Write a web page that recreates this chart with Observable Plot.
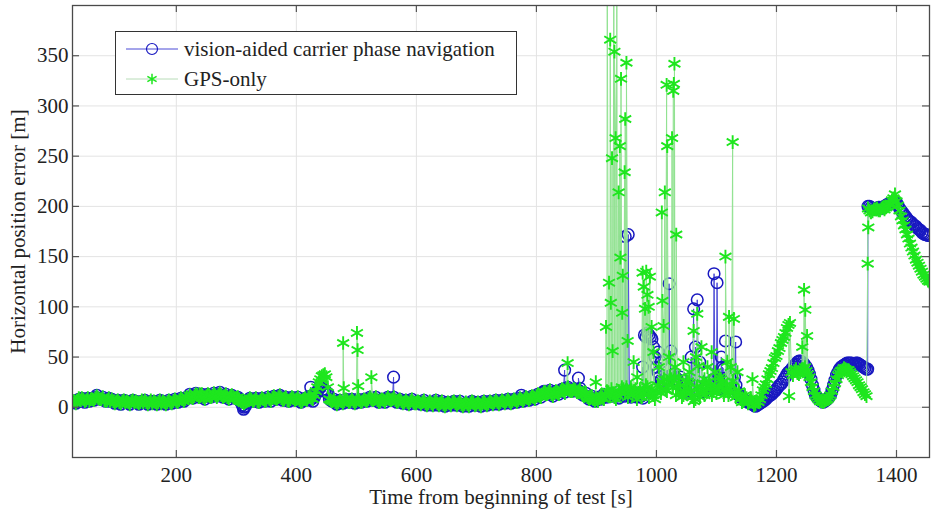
<!DOCTYPE html>
<html><head><meta charset="utf-8">
<script src="https://cdn.jsdelivr.net/npm/d3@7"></script>
<script src="https://cdn.jsdelivr.net/npm/@observablehq/plot@0.6"></script>
<style>
body{margin:0;background:#fff;}
#wrap{position:relative;width:931px;height:513px;font-family:"Liberation Serif","Times New Roman",serif;color:#222;}
#legend{position:absolute;left:115px;top:31px;width:402px;height:64px;border:1px solid #333;background:#fff;box-sizing:border-box;font-size:21px;}
.row{position:absolute;left:0;height:24px;display:flex;align-items:center;}
.row svg{display:block;}
.row span{margin-left:6px;white-space:nowrap;}
</style></head>
<body><div id="wrap"></div>
<script>
// ---- data ----
const t0 = 30, dt = 5; // base samples every 5 s from t = 30 s; mid samples at t0 + 2.5 + 5i
const visionBase = [
 6,7,6,8,7,6,9,10,9,8,7,7,6,6,
 6,5,6,5,5,6,5,5,4,5,5,5,4,5,5,4,5,5,5,6,
 6,7,8,8,10,11,12,12,11,10,11,12,11,12,13,12,11,10,11,10,
 9,8,2,1,7,8,7,6,7,8,7,8,9,10,11,9,8,7,8,9,
 8,7,6,9,10,8,10,16,20,18,15,8,6,5,5,6,6,7,6,6,
 6,7,6,7,8,9,8,7,6,7,8,9,8,7,6,6,5,5,6,5,
 4,5,5,4,3,4,5,4,4,3,3,4,5,4,4,3,2,3,4,5,
 3,3,4,4,4,5,5,5,5,6,6,6,6,7,7,8,8,9,9,10,
 11,12,14,16,15,13,14,15,16,18,19,17,16,18,17,14,12,10,9,8,
 8,10,11,12,12,13,12,11,12,13,14,12,11,12,13,11,72,74,70,60,
 40,30,25,28,30,32,30,28,22,18,15,17,20,22,18,15,16,20,25,28,
 22,18,20,25,22,20,30,15,10,8,6,5,3,1,3,5,7,10,12,15,
 18,22,25,30,35,38,42,45,46,44,40,33,22,12,8,6,6,8,12,22,
 32,38,41,43,44,44,43,44,42,40,38,200,198,197,199,198,200,202,203,205,
 204,198,194,190,186,184,181,178,176,173,172,171
];
const visionMid = [
 4,8,9,5,9,8,7,12,8,10,6,9,8,4,
 7,3,7,6,3,7,6,3,6,7,3,6,6,3,7,6,3,7,4,8,
 5,9,6,10,13,9,14,10,13,8,13,10,14,11,15,10,13,8,12,9,
 10,5,0,4,9,6,9,5,9,6,10,6,11,8,12,7,10,6,10,7,
 10,5,8,7,11,6,13,18,22,17,14,7,8,3,7,4,8,5,8,4,
 8,5,8,6,10,7,10,5,8,5,10,7,10,5,8,4,7,3,8,4,
 6,3,7,2,5,2,7,2,6,1,5,2,6,2,6,1,4,1,6,2,
 5,1,6,2,6,3,7,3,7,4,8,4,8,5,9,6,10,7,11,8,
 13,10,16,14,17,11,16,13,18,15,20,16,18,16,19,12,14,8,11,6,
 10,8,13,10,14,11,14,9,14,11,16,10,13,10,15,9,70,72,68,50,
 35,27,27,30,31,33,29,25,20,16,16,19,21,20,16,15,18,22,27,25,
 20,19,23,23,21,25,22,12,9,7,5,4,2,2,4,6,8,11,13,16,
 20,23,28,33,36,40,43,46,45,42,37,28,17,10,7,5,7,10,17,27,
 35,40,42,44,44,43,44,43,41,39,200,199,197,198,199,199,201,202,204,205,
 201,196,192,188,185,182,180,177,174,172,171
];
const gpsBase = [
 6,7,7,8,7,6,8,9,9,8,7,7,6,6,
 6,5,6,5,5,6,5,5,5,5,5,5,4,5,5,4,5,5,5,6,
 6,7,8,8,9,10,11,12,11,10,11,12,11,12,12,12,11,10,11,10,
 9,8,5,5,7,8,7,6,7,8,7,8,9,9,10,9,8,7,8,9,
 8,7,6,9,10,9,12,20,28,32,30,8,6,5,5,6,6,7,6,6,
 6,7,6,7,8,8,8,7,6,7,8,8,8,7,6,6,5,5,6,5,
 4,5,5,4,4,4,5,4,4,3,3,4,5,4,4,3,3,3,4,5,
 3,3,4,4,4,5,5,5,5,6,6,6,6,7,7,8,8,9,9,10,
 11,12,13,15,15,13,14,15,16,17,18,17,16,17,16,14,12,10,9,8,
 8,9,10,12,15,18,10,12,14,18,20,15,12,18,14,10,15,20,14,12,
 15,20,25,18,22,28,30,20,15,12,18,24,10,8,15,20,12,18,22,16,
 14,20,25,18,12,22,15,12,8,6,9,7,5,3,5,12,20,28,36,44,
 51,59,67,74,82,35,36,34,35,38,36,30,20,12,8,6,6,8,12,20,
 28,34,37,38,37,33,29,25,20,15,11,196,195,197,196,198,197,200,203,208,
 205,196,186,177,168,159,151,144,138,132,128,125
];
const gpsMid = [
 4,9,9,6,9,8,7,11,8,10,6,9,8,4,
 7,4,7,6,3,7,6,4,7,7,3,7,6,3,7,6,3,7,4,8,
 5,9,6,10,12,9,13,10,13,8,13,10,14,10,14,10,13,8,12,9,
 10,6,4,6,9,6,9,5,9,6,10,6,11,8,12,7,10,6,10,7,
 10,5,8,7,11,8,16,25,31,33,20,7,8,3,7,4,8,5,8,4,
 8,5,8,6,10,7,10,5,8,5,10,7,10,5,8,4,7,3,8,4,
 6,3,7,2,6,2,7,2,6,1,5,2,6,2,6,1,5,1,6,2,
 5,1,6,2,6,3,7,3,7,4,8,4,8,5,9,6,10,7,11,8,
 13,10,15,13,17,11,16,13,18,14,20,16,18,15,18,12,14,8,11,6,
 6,12,8,16,12,14,8,16,20,14,10,20,16,8,18,14,22,10,16,8,
 22,14,28,16,30,20,12,24,10,16,26,14,6,20,10,24,16,26,12,20,
 18,28,12,20,16,26,10,16,5,12,4,9,2,6,8,17,23,33,39,49,
 56,64,70,79,84,32,38,33,38,40,33,25,16,10,6,5,7,10,16,24,
 32,36,39,37,35,31,27,22,18,13,198,194,197,198,196,199,199,202,206,212,
 201,190,181,172,163,155,147,141,135,130,126
];
const visionSpikes = [
 [424,20],[562,30],[775,12],[847,37],[870,29],[312,-2],
 [948,170],[953,172],[977,40],[1003,55],[1008,45],[1021,123],[1024,56],[1040,30],
 [1058,50],[1062,98],[1065,60],[1068,107],[1072,45],[1085,35],
 [1096,133],[1101,124],[1108,50],[1110,40],[1112,38],[1115,66],[1122,30],[1132,65],[1352,38]
];
const gpsSpikes = [
 [239,13],[478,64],[479,19],[501,74],[502,57],[503,21],[525,30],[852,44],[899,25],
 [916,80],[918,460],[921,124],[923,366],[924,104],[926,248],[927,56],[929,480],
 [930,354],[932,268],[934,420],[937,214],[939,260],[940,149],[941,327],[943,94],
 [944,131],[947,234],[948,287],[950,343],[952,66],[962,45],[968,30],
 [977,134],[979,120],[981,98],[983,135],[985,112],[987,100],[989,130],[992,80],[995,55],
 [1004,40],[1009,194],[1010,106],[1012,81],[1014,214],[1017,321],[1018,260],[1021,50],
 [1026,268],[1028,315],[1029,322],[1030,342],[1031,40],[1033,172],[1038,30],
 [1045,45],[1050,25],[1055,35],[1062,76],[1066,50],[1068,93],[1070,41],[1075,60],
 [1080,28],[1085,40],[1092,55],[1098,35],[1105,30],[1115,150],[1118,45],[1121,90],
 [1124,40],[1127,264],[1129,88],
 [1135,35],[1160,28],[1221,11],[1243,60],[1246,117],[1248,97],[1251,71],
 [1352,143],[1353,179]
];
const xTicks = [200,400,600,800,1000,1200,1400];
const yTicks = [0,50,100,150,200,250,300,350];
const seriesNames = ["vision-aided carrier phase navigation","GPS-only"];
const xLabel = "Time from beginning of test [s]";
const yLabel = "Horizontal position error [m]";

function build(base, mid, spikes){
  const pts = base.map((v,i)=>({t:t0+i*dt, v}));
  mid.forEach((v,i)=>pts.push({t:t0+dt/2+i*dt, v}));
  spikes.forEach(([t,v])=>pts.push({t,v}));
  pts.sort((a,b)=>a.t-b.t);
  return pts;
}
const vision = build(visionBase, visionMid, visionSpikes);
const gps = build(gpsBase, gpsMid, gpsSpikes);

const W=931, H=513, mL=72, mR=2, mT=5, mB=56;
const fw = W-mL-mR, fh = H-mT-mB;
const tick = 7;
const FS = 21;

const chart = Plot.plot({
  width: W, height: H,
  marginLeft: mL, marginRight: mR, marginTop: mT, marginBottom: mB,
  x: {domain:[27,1455]},
  y: {domain:[-50,400]},
  style: {fontFamily:'"Liberation Serif","Times New Roman",serif', fontSize:FS+"px", color:"#222", background:"#fff"},
  marks: [
    Plot.gridX(xTicks, {stroke:"#e3e3e3", strokeOpacity:1}),
    Plot.gridY(yTicks, {stroke:"#e3e3e3", strokeOpacity:1}),
    Plot.line(vision, {x:"t", y:"v", stroke:"#4a4ad6", strokeWidth:1, clip:true}),
    Plot.dot(vision, {x:"t", y:"v", r:5.8, stroke:"#1818c0", strokeWidth:1.5, fill:"none", clip:true}),
    Plot.line(gps, {x:"t", y:"v", stroke:"#92e292", strokeWidth:1, clip:true}),
    Plot.dot(gps, {x:"t", y:"v", symbol:"asterisk", r:6.5, stroke:"#1ee61e", strokeWidth:1.9, clip:true}),
    Plot.tickX(xTicks, {x:d=>d, insetTop: fh-tick, stroke:"#555", strokeWidth:1.2}),
    Plot.tickX(xTicks, {x:d=>d, insetBottom: fh-tick, stroke:"#555", strokeWidth:1.2}),
    Plot.tickY(yTicks, {y:d=>d, insetRight: fw-tick, stroke:"#555", strokeWidth:1.2}),
    Plot.tickY(yTicks, {y:d=>d, insetLeft: fw-tick, stroke:"#555", strokeWidth:1.2}),
    Plot.frame({stroke:"#4a4a4a", strokeWidth:1.3}),
    Plot.axisX(xTicks, {tickSize:0, tickPadding:10, label:null, fill:"#222", tickFormat:d=>String(d), fontSize:FS}),
    Plot.axisY(yTicks, {tickSize:0, tickPadding:4, label:null, fill:"#222", tickFormat:d=>String(d), fontSize:FS}),
    Plot.text([xLabel], {frameAnchor:"bottom", dy:40, textAnchor:"middle", lineAnchor:"middle", text:d=>d, fill:"#222", fontSize:FS}),
    Plot.text([yLabel], {frameAnchor:"left", dx:-54, rotate:-90, textAnchor:"middle", lineAnchor:"middle", text:d=>d, fill:"#222", fontSize:FS})
  ]
});
const wrap = document.getElementById("wrap");
wrap.appendChild(chart);

// legend
const legend = document.createElement("div");
legend.id = "legend";
const star = d3.symbol(d3.symbolAsterisk, 80)();
const rows = [
  {name: seriesNames[0], y: 5, line:"#4a4ad6", marker:`<circle cx="26" cy="12" r="5.5" fill="none" stroke="#1818c0" stroke-width="1.2"/>`},
  {name: seriesNames[1], y: 35, line:"#b8dcb8", marker:`<path transform="translate(26,12)" d="${star}" fill="none" stroke="#1ee61e" stroke-width="1.5"/>`}
];
rows.forEach(r=>{
  const d = document.createElement("div");
  d.className = "row";
  d.style.top = r.y + "px";
  d.style.left = "10px";
  d.innerHTML = `<svg width="52" height="24"><line x1="0" x2="52" y1="12" y2="12" stroke="${r.line}" stroke-width="1"/>${r.marker}</svg><span>${r.name}</span>`;
  legend.appendChild(d);
});
wrap.appendChild(legend);
</script>
</body></html>
